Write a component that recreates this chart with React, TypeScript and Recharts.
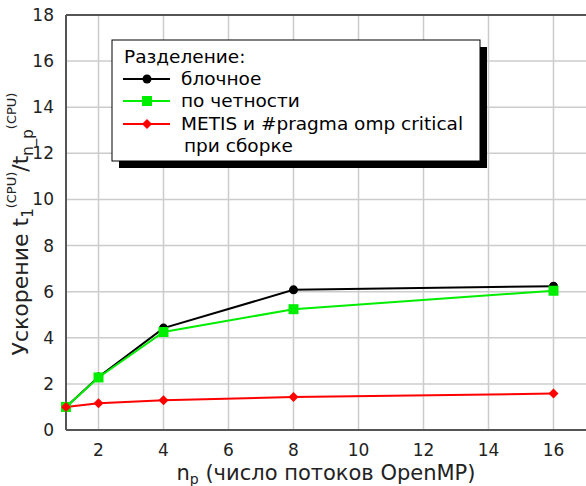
import React from "react";
import { LineChart, Line, XAxis, YAxis, CartesianGrid, ReferenceLine } from "recharts";

const threads = [1, 2, 4, 8, 16];
const blockSpeedup = [1.0, 2.3, 4.42, 6.08, 6.24];
const paritySpeedup = [1.0, 2.28, 4.25, 5.24, 6.04];
const metisSpeedup = [1.0, 1.16, 1.29, 1.43, 1.58];

const xTicks = [2, 4, 6, 8, 10, 12, 14, 16];
const yTicks = [0, 2, 4, 6, 8, 10, 12, 14, 16, 18];

const data = threads.map((n, i) => ({
  n,
  block: blockSpeedup[i],
  parity: paritySpeedup[i],
  metis: metisSpeedup[i],
}));

const FONT = "'DejaVu Sans', sans-serif";

const SquareDot = (props: any) => {
  const { cx, cy } = props;
  return <rect x={cx - 5} y={cy - 5} width={10} height={10} fill="#00ee00" />;
};

const DiamondDot = (props: any) => {
  const { cx, cy } = props;
  return <polygon points={`${cx},${cy - 5} ${cx + 5},${cy} ${cx},${cy + 5} ${cx - 5},${cy}`} fill="#ff0000" />;
};

const CircleDot = (props: any) => {
  const { cx, cy } = props;
  return <circle cx={cx} cy={cy} r={4.5} fill="#000" />;
};

function LegendBox() {
  const rows = [
    { label: "блочное", color: "#000", kind: "circle", y: 79 },
    { label: "по четности", color: "#00ee00", kind: "square", y: 101 },
    { label: "METIS и #pragma omp critical", color: "#ff0000", kind: "diamond", y: 124 },
  ];
  return (
    <svg width={586} height={486} style={{ position: "absolute", left: 0, top: 0, pointerEvents: "none" }}>
      <rect x={119} y={47} width={368} height={121} fill="#000" />
      <rect x={112} y={40} width={368} height={121} fill="#fff" stroke="#000" strokeWidth={1} />
      <text x={124} y={63} fontFamily={FONT} fontSize={18.5} fill="#000">Разделение:</text>
      {rows.map((r) => (
        <g key={r.label}>
          <line x1={123} x2={170} y1={r.y} y2={r.y} stroke={r.color} strokeWidth={2} />
          {r.kind === "circle" && <circle cx={147} cy={r.y} r={4.5} fill={r.color} />}
          {r.kind === "square" && <rect x={142} y={r.y - 5} width={10} height={10} fill={r.color} />}
          {r.kind === "diamond" && (
            <polygon points={`147,${r.y - 5} 152,${r.y} 147,${r.y + 5} 142,${r.y}`} fill={r.color} />
          )}
          <text x={181} y={r.y + 6} fontFamily={FONT} fontSize={18.5} fill="#000">{r.label}</text>
        </g>
      ))}
      <text x={184} y={152} fontFamily={FONT} fontSize={18.5} fill="#000">при сборке</text>
    </svg>
  );
}

function AxisLabels() {
  return (
    <svg width={586} height={486} style={{ position: "absolute", left: 0, top: 0, pointerEvents: "none" }}>
      <g transform="translate(28,224) rotate(-90)">
        <text textAnchor="middle" fontFamily={FONT} fontSize={22} fill="#222">
          <tspan>Ускорение t</tspan>
          <tspan fontSize={15} dy={5}>1</tspan>
          <tspan fontSize={13} dy={-17}>(CPU)</tspan>
          <tspan dy={12}>/t</tspan>
          <tspan fontSize={15} dy={5}>n_p</tspan>
          <tspan fontSize={13} dy={-17}>(CPU)</tspan>
        </text>
      </g>
      <text x={326} y={480} textAnchor="middle" fontFamily={FONT} fontSize={21} fill="#222">
        <tspan>n</tspan>
        <tspan fontSize={14} dy={4}>p</tspan>
        <tspan dy={-4}> (число потоков OpenMP)</tspan>
      </text>
    </svg>
  );
}

export default function App() {
  return (
    <div style={{ position: "absolute", left: 0, top: 0, width: 586, height: 486, background: "#fff" }}>
      <LineChart width={586} height={486} data={data} margin={{ top: 15, right: 0, left: 0, bottom: 0 }}>
        <CartesianGrid stroke="#cccccc" strokeWidth={1.5} horizontalValues={yTicks} verticalValues={xTicks} />
        <XAxis
          dataKey="n"
          type="number"
          domain={[1, 17]}
          ticks={xTicks}
          height={56}
          axisLine={{ stroke: "#555", strokeWidth: 2 }}
          tickLine={false}
          tick={{ fill: "#222", fontSize: 17, fontFamily: FONT }}
          tickMargin={8}
        />
        <YAxis
          type="number"
          domain={[0, 18]}
          ticks={yTicks}
          width={66}
          axisLine={{ stroke: "#555", strokeWidth: 2 }}
          tickLine={false}
          tick={{ fill: "#222", fontSize: 17, fontFamily: FONT }}
          tickMargin={6}
          interval={0}
        />
        <ReferenceLine y={18} stroke="#555" strokeWidth={2} />
        <Line dataKey="block" stroke="#000" strokeWidth={2} dot={<CircleDot />} isAnimationActive={false} />
        <Line dataKey="parity" stroke="#00ee00" strokeWidth={2} dot={<SquareDot />} isAnimationActive={false} />
        <Line dataKey="metis" stroke="#ff0000" strokeWidth={2} dot={<DiamondDot />} isAnimationActive={false} />
      </LineChart>
      <AxisLabels />
      <LegendBox />
    </div>
  );
}
